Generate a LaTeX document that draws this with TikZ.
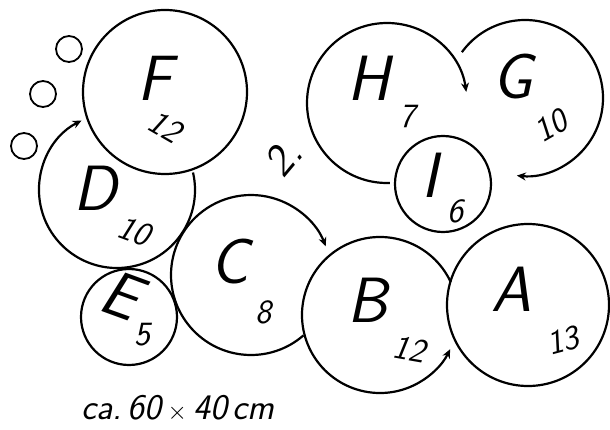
\documentclass[tikz,border=0pt]{standalone}
\usetikzlibrary{arrows.meta}
\begin{document}
\begin{tikzpicture}[x=1pt,y=1pt,
  ring/.style={line width=2.2pt},
  thin ring/.style={line width=1.8pt},
  tipend/.style={-{Stealth[length=9pt,width=8pt]}},
  big/.style={font=\sffamily\slshape\fontsize{64}{64}\selectfont, inner sep=0pt},
  sub/.style={font=\sffamily\slshape\fontsize{34}{34}\selectfont, inner sep=0pt},
  note/.style={font=\sffamily\slshape\fontsize{36}{36}\selectfont, inner sep=0pt}]
\useasboundingbox (0,0) rectangle (610,429);
% centres
\coordinate (cF) at (165,337);
\coordinate (s1) at (69,380);
\coordinate (s2) at (43,335);
\coordinate (s3) at (24,283);
\coordinate (cD) at (117,239);
\coordinate (cE) at (129,112);
\coordinate (cC) at (251,154);
\coordinate (cB) at (380,114);
\coordinate (cA) at (528,124);
\coordinate (cH) at (387,326);
\coordinate (cG) at (525,331);
\coordinate (cI) at (443,245);
% circles
\draw[ring] (cF) circle[radius=82];
\draw[thin ring] (s1) circle[radius=13];
\draw[thin ring] (s2) circle[radius=13];
\draw[thin ring] (s3) circle[radius=13];
\draw[ring,tipend] ([shift={(373:78)}]cD) arc[start angle=373,end angle=117,radius=78];
\draw[ring] (cE) circle[radius=48];
\draw[ring,tipend] ([shift={(-49:80)}]cC) arc[start angle=-49,end angle=-339,radius=80];
\draw[ring,tipend] ([shift={(25:78)}]cB) arc[start angle=25,end angle=334,radius=78];
\draw[ring] (cA) circle[radius=81];
\draw[ring,tipend] ([shift={(272:80)}]cH) arc[start angle=272,end angle=8,radius=80];
\draw[ring,tipend] ([shift={(144:78)}]cG) arc[start angle=144,end angle=-96,radius=78];
\draw[ring] (cI) circle[radius=48];
% labels
\node[big] (lF) at (155,351) {F};
\node[sub,rotate=-30] (nF) at (165,302) {12};
\node[big] (lD) at (95,241) {D};
\node[sub,rotate=-20] (nD) at (134,198) {10};
\node[big,rotate=-20] (lE) at (121,134) {E};
\node[sub] (nE) at (142,94) {5};
\node[big] (lC) at (230,167) {C};
\node[sub] (nC) at (263,117) {8};
\node[big] (lB) at (368,129) {B};
\node[sub,rotate=-10] (nB) at (409,80) {12};
\node[big] (lA) at (511,140) {A};
\node[sub,rotate=15] (nA) at (563,88) {13};
\node[big] (lH) at (369,351) {H};
\node[sub] (nH) at (407,313) {7};
\node[big] (lG) at (513,352) {G};
\node[sub,rotate=30] (nG) at (551,303) {10};
\node[big] (lI) at (430,254) {I};
\node[sub] (nI) at (455,218) {6};
\node[font=\sffamily\slshape\fontsize{44}{44}\selectfont, inner sep=0pt, rotate=50] (two) at (283,271) {2.};
\node[note] (size) at (178,21) {ca.\,60\,$\times$\,40\,cm};
\end{tikzpicture}
\end{document}
